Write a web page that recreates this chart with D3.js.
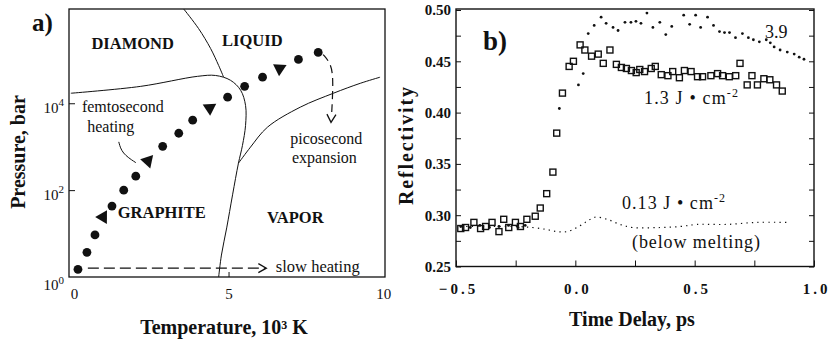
<!DOCTYPE html>
<html>
<head>
<meta charset="utf-8">
<script src="https://cdn.jsdelivr.net/npm/d3@7"></script>
<style>
    html, body { margin: 0; padding: 0; background: #fff; }
    svg { display: block; font-family: 'Liberation Serif', 'Times New Roman', serif; }
</style>
</head>
<body>
<svg width="831" height="341"></svg>
<script>
// panel a: heating path through the carbon phase diagram (T in 10^3 K, P in bar)
const heatTemp = [0.13, 0.42, 0.68, 0.94, 1.23, 1.61, 2.0, 2.39, 2.87, 3.39, 3.84, 4.39, 4.97, 5.52, 6.1, 6.65, 7.26, 7.9]
const heatPressure = [1.5, 3.7, 9.3, 24, 43, 100, 210, 470, 1020, 2040, 4070, 7760, 13800, 24500, 39800, 63100, 102000, 148000]
const heatMarker = ['o', 'o', 'o', 't', 'o', 'o', 'o', 't', 'o', 'o', 'o', 't', 'o', 'o', 'o', 't', 'o', 'o']

const graphiteTemp = [-0.1, 2.16, 4.0, 4.58, 5.06, 5.39, 5.55, 5.55, 5.45, 5.32, 5.13, 4.94, 4.77, 4.68]
const graphitePressure = [17000, 24500, 41700, 43600, 33900, 20000, 8900, 3090, 1070, 417, 78, 13.5, 3.2, 1]
const diamondTemp = [3.55, 4.03, 4.42, 4.68, 4.84]
const diamondPressure = [1.48e6, 5.25e5, 1.82e5, 7.41e4, 4.0e4]
const vaporTemp = [5.32, 5.71, 6.26, 7.32, 8.39, 9.26, 9.9]
const vaporPressure = [417, 977, 2820, 8130, 17000, 28800, 39800]

const slowTemp = [0.45, 6.19]
const slowPressure = [1.6, 1.6]
const expandTemp = [8.06, 8.33, 8.39, 8.33]
const expandPressure = [132000, 79000, 31600, 5000]

const tempTicks = [0, 5, 10]
const pressureTicks = [1, 100, 10000]

// panel b: reflectivity vs time delay (ps)
const highTime = [-0.48, -0.44, -0.40, -0.36, -0.32, -0.28, -0.24, -0.21, -0.067, 0.013, 0.033, 0.054, 0.079, 0.108, 0.129, 0.158, 0.179, 0.208, 0.233, 0.254, 0.275, 0.3, 0.325, 0.354, 0.379, 0.404, 0.454, 0.479, 0.504, 0.525, 0.554, 0.579, 0.604, 0.625, 0.646, 0.671, 0.7, 0.725, 0.746, 0.771, 0.8, 0.817, 0.833, 0.858, 0.888, 0.917, 0.938, 0.958]
const highRefl = [0.289, 0.288, 0.290, 0.288, 0.289, 0.290, 0.288, 0.290, 0.404, 0.427, 0.438, 0.477, 0.485, 0.493, 0.487, 0.483, 0.480, 0.488, 0.488, 0.489, 0.487, 0.497, 0.483, 0.488, 0.476, 0.484, 0.495, 0.486, 0.495, 0.483, 0.493, 0.485, 0.479, 0.478, 0.478, 0.473, 0.477, 0.473, 0.471, 0.469, 0.471, 0.468, 0.464, 0.461, 0.459, 0.457, 0.454, 0.452]

const midTime = [-0.48, -0.46, -0.425, -0.397, -0.376, -0.349, -0.32, -0.30, -0.279, -0.251, -0.23, -0.203, -0.168, -0.147, -0.12, -0.094, -0.078, -0.054, -0.026, -0.008, 0.02, 0.04, 0.068, 0.096, 0.117, 0.145, 0.172, 0.193, 0.214, 0.235, 0.255, 0.27, 0.29, 0.318, 0.335, 0.36, 0.388, 0.408, 0.436, 0.457, 0.485, 0.512, 0.533, 0.568, 0.596, 0.617, 0.645, 0.672, 0.69, 0.72, 0.74, 0.763, 0.79, 0.815, 0.843, 0.867]
const midRefl = [0.287, 0.288, 0.293, 0.287, 0.289, 0.293, 0.284, 0.296, 0.288, 0.293, 0.289, 0.296, 0.299, 0.307, 0.321, 0.342, 0.380, 0.419, 0.445, 0.450, 0.466, 0.461, 0.455, 0.457, 0.448, 0.461, 0.447, 0.444, 0.443, 0.441, 0.439, 0.442, 0.440, 0.443, 0.445, 0.437, 0.436, 0.440, 0.434, 0.441, 0.440, 0.435, 0.435, 0.436, 0.438, 0.436, 0.435, 0.436, 0.448, 0.427, 0.436, 0.427, 0.433, 0.432, 0.427, 0.421]

const lowTime = [-0.48, -0.35, -0.25, -0.18, -0.12, -0.077, -0.035, 0.007, 0.049, 0.082, 0.133, 0.187, 0.24, 0.355, 0.44, 0.51, 0.635, 0.76, 0.89]
const lowRefl = [0.289, 0.289, 0.289, 0.288, 0.286, 0.284, 0.284, 0.288, 0.294, 0.298, 0.296, 0.291, 0.288, 0.288, 0.289, 0.291, 0.291, 0.293, 0.293]

const timeTicks = d3.range(-0.5, 1.001, 0.25)
const reflTicks = d3.range(0.25, 0.5001, 0.025)

const ink = '#111'
const svg = d3.select('svg')
const zip = (a, b) => a.map((v, i) => [v, b[i]])

// ---------- panel a ----------
const xA = d3.scaleLinear().domain([-0.16, 10.06]).range([69, 385])
const yA = d3.scaleLog().domain([1, Math.pow(10, 6.17)]).range([277, 9])
const pa = svg.append('g').attr('class', 'panel-a')

pa.append('rect')
    .attr('x', xA.range()[0])
    .attr('y', yA.range()[1])
    .attr('width', xA.range()[1] - xA.range()[0])
    .attr('height', yA.range()[0] - yA.range()[1])
    .attr('fill', 'none')
    .attr('stroke', ink)
    .attr('stroke-width', 1.3)

const xAxisA = pa.append('g')
    .attr('transform', `translate(0, ${yA.range()[0]})`)
    .call(d3.axisBottom(xA).tickValues(tempTicks).tickSize(-5).tickPadding(11).tickFormat(d3.format('d')))
xAxisA.select('.domain').remove()
xAxisA.selectAll('.tick line').attr('stroke', ink).attr('opacity', (d) => (d === 5 ? 1 : 0))
xAxisA.selectAll('.tick text')
    .attr('fill', ink)
    .attr('font-size', 15)
    .attr('font-family', 'Liberation Serif')

const yAxisA = pa.append('g')
    .attr('transform', `translate(${xA.range()[0]}, 0)`)
    .call(d3.axisLeft(yA).tickValues(pressureTicks).tickSize(-6).tickPadding(5))
yAxisA.select('.domain').remove()
yAxisA.selectAll('.tick line').attr('stroke', ink).attr('opacity', (d) => (d === 1 ? 0 : 1))
yAxisA.selectAll('.tick text').each(function (d) {
    const t = d3.select(this)
    t.text(null)
        .attr('fill', ink)
        .attr('font-size', 15)
        .attr('font-family', 'Liberation Serif')
        .attr('dy', d === 1 ? '0.85em' : '0.62em')
    t.append('tspan').text('10')
    t.append('tspan').attr('dy', '-0.6em').attr('font-size', 11).text(Math.round(Math.log10(d)))
})

const lineA = d3.line()
    .x((d) => xA(d[0]))
    .y((d) => yA(d[1]))
    .curve(d3.curveCatmullRom.alpha(0.5))

const boundaries = [
    zip(graphiteTemp, graphitePressure),
    zip(diamondTemp, diamondPressure),
    zip(vaporTemp, vaporPressure),
]
pa.selectAll('path.boundary')
    .data(boundaries)
    .join('path')
    .attr('class', 'boundary')
    .attr('d', lineA)
    .attr('fill', 'none')
    .attr('stroke', ink)
    .attr('stroke-width', 1)

// slow heating dashed arrow
const slow = zip(slowTemp, slowPressure)
pa.append('path')
    .attr('d', d3.line().x((d) => xA(d[0])).y((d) => yA(d[1]))(slow))
    .attr('fill', 'none')
    .attr('stroke', ink)
    .attr('stroke-width', 1.4)
    .attr('stroke-dasharray', '11,5')

const arrowHead = (g, tip, angle) => {
    g.append('path')
        .attr('d', 'M-8,-4.5L0,0L-8,4.5')
        .attr('transform', `translate(${tip[0]}, ${tip[1]}) rotate(${angle})`)
        .attr('fill', 'none')
        .attr('stroke', ink)
        .attr('stroke-width', 1.3)
}
arrowHead(pa, [xA(slowTemp[1]) + 1, yA(slowPressure[1])], 0)

// picosecond expansion dashed arrow
const expand = zip(expandTemp, expandPressure)
pa.append('path')
    .attr('d', d3.line().x((d) => xA(d[0])).y((d) => yA(d[1])).curve(d3.curveBasis)(expand))
    .attr('fill', 'none')
    .attr('stroke', ink)
    .attr('stroke-width', 1.2)
    .attr('stroke-dasharray', '8,5')
{
    const n = expand.length
    const p0 = [xA(expand[n - 2][0]), yA(expand[n - 2][1])]
    const p1 = [xA(expand[n - 1][0]), yA(expand[n - 1][1])]
    const ang = (Math.atan2(p1[1] - p0[1], p1[0] - p0[0]) * 180) / Math.PI
    arrowHead(pa, [p1[0] - 0.5, p1[1] + 6], ang)
}

// heating path markers
const heat = heatTemp.map((t, i) => ({ t, p: heatPressure[i], m: heatMarker[i], i }))
pa.selectAll('circle.heat')
    .data(heat.filter((d) => d.m === 'o'))
    .join('circle')
    .attr('class', 'heat')
    .attr('cx', (d) => xA(d.t))
    .attr('cy', (d) => yA(d.p))
    .attr('r', 4.4)
    .attr('fill', ink)

pa.selectAll('path.heat-arrow')
    .data(heat.filter((d) => d.m === 't'))
    .join('path')
    .attr('class', 'heat-arrow')
    .attr('d', d3.symbol(d3.symbolTriangle, 80))
    .attr('fill', ink)
    .attr('transform', (d) => {
        const a = heat[d.i - 1]
        const b = heat[d.i + 1]
        const ang = (Math.atan2(yA(b.p) - yA(a.p), xA(b.t) - xA(a.t)) * 180) / Math.PI + 90
        return `translate(${xA(d.t)}, ${yA(d.p)}) rotate(${ang})`
    })

// leader from "heating" label
pa.append('path')
    .attr('d', d3.line().x((d) => xA(d[0])).y((d) => yA(d[1])).curve(d3.curveBasis)([[1.45, 1290], [1.55, 700], [2.0, 430]]))
    .attr('fill', 'none')
    .attr('stroke', ink)
    .attr('stroke-width', 1)

const labelsA = [
    { text: 'DIAMOND', t: 1.9, p: 2.45e5, bold: true },
    { text: 'LIQUID', t: 5.77, p: 2.88e5, bold: true },
    { text: 'GRAPHITE', t: 2.84, p: 31, bold: true },
    { text: 'VAPOR', t: 7.16, p: 24, bold: true },
    { text: 'femtosecond', t: 1.58, p: 8300 },
    { text: 'heating', t: 1.19, p: 2950 },
    { text: 'picosecond', t: 8.16, p: 1580 },
    { text: 'expansion', t: 8.1, p: 575 },
]
pa.selectAll('text.label')
    .data(labelsA)
    .join('text')
    .attr('class', 'label')
    .attr('x', (d) => xA(d.t))
    .attr('y', (d) => yA(d.p))
    .attr('dy', '0.35em')
    .attr('text-anchor', 'middle')
    .attr('font-size', (d) => (d.bold ? 16.5 : 16))
    .attr('font-weight', (d) => (d.bold ? 'bold' : 'normal'))
    .attr('fill', ink)
    .text((d) => d.text)

pa.append('text')
    .attr('x', xA(6.53))
    .attr('y', yA(1.7))
    .attr('dy', '0.3em')
    .attr('font-size', 16.5)
    .attr('fill', ink)
    .text('slow heating')

pa.append('text')
    .attr('x', 32)
    .attr('y', 31)
    .attr('font-size', 25)
    .attr('font-weight', 'bold')
    .attr('fill', ink)
    .text('a)')

pa.append('text')
    .attr('transform', 'translate(18, 152) rotate(-90)')
    .attr('dy', '0.35em')
    .attr('text-anchor', 'middle')
    .attr('font-size', 20)
    .attr('font-weight', 'bold')
    .attr('fill', ink)
    .text('Pressure, bar')

pa.append('text')
    .attr('x', 224)
    .attr('y', 334)
    .attr('text-anchor', 'middle')
    .attr('font-size', 20)
    .attr('font-weight', 'bold')
    .attr('fill', ink)
    .text('Temperature, 10³ K')

// ---------- panel b ----------
const xB = d3.scaleLinear().domain([-0.5, 1.0]).range([456, 814])
const yB = d3.scaleLinear().domain([0.25, 0.5]).range([266.5, 10])
const pb = svg.append('g').attr('class', 'panel-b')

pb.append('rect')
    .attr('x', xB.range()[0])
    .attr('y', 9)
    .attr('width', xB.range()[1] - xB.range()[0])
    .attr('height', yB.range()[0] - 9)
    .attr('fill', 'none')
    .attr('stroke', ink)
    .attr('stroke-width', 1.4)

const isHalf = (d) => Math.abs(d * 2 - Math.round(d * 2)) < 1e-6
const isTwentieth = (d) => Math.abs(d * 20 - Math.round(d * 20)) < 1e-6

const xAxisB = pb.append('g')
    .attr('transform', `translate(0, ${yB.range()[0]})`)
    .call(d3.axisBottom(xB).tickValues(timeTicks).tickSize(-6).tickPadding(17)
        .tickFormat((d) => (isHalf(d) ? d3.format('.1f')(d) : '')))
xAxisB.select('.domain').remove()
xAxisB.selectAll('.tick line').attr('stroke', ink)
xAxisB.selectAll('.tick text')
    .attr('fill', ink)
    .attr('font-size', 15)
    .attr('font-weight', 'bold')
    .attr('font-family', 'Liberation Serif')
    .attr('letter-spacing', 3)
    .attr('dx', 2)

const yAxisB = pb.append('g')
    .attr('transform', `translate(${xB.range()[0]}, 0)`)
    .call(d3.axisLeft(yB).tickValues(reflTicks).tickSize(-5).tickPadding(5)
        .tickFormat((d) => (isTwentieth(d) ? d3.format('.2f')(d) : '')))
yAxisB.select('.domain').remove()
yAxisB.selectAll('.tick line').attr('stroke', ink)
yAxisB.selectAll('.tick text')
    .attr('fill', ink)
    .attr('font-size', 15)
    .attr('font-weight', 'bold')
    .attr('font-family', 'Liberation Serif')

const yAxisBRight = pb.append('g')
    .attr('transform', `translate(${xB.range()[1]}, 0)`)
    .call(d3.axisRight(yB).tickValues(reflTicks).tickSize(-5).tickFormat(''))
yAxisBRight.select('.domain').remove()
yAxisBRight.selectAll('.tick line').attr('stroke', ink)

// 0.13 J/cm2 trace (dotted line)
pb.append('path')
    .attr('d', d3.line().x((d) => xB(d[0])).y((d) => yB(d[1])).curve(d3.curveCatmullRom)(zip(lowTime, lowRefl)))
    .attr('fill', 'none')
    .attr('stroke', ink)
    .attr('stroke-width', 1.2)
    .attr('stroke-dasharray', '1.3,4.2')

// 3.9 J/cm2 (small dots)
pb.selectAll('circle.high')
    .data(zip(highTime, highRefl))
    .join('circle')
    .attr('class', 'high')
    .attr('cx', (d) => xB(d[0]))
    .attr('cy', (d) => yB(d[1]))
    .attr('r', 1.4)
    .attr('fill', ink)

// 1.3 J/cm2 (open squares)
pb.selectAll('rect.mid')
    .data(zip(midTime, midRefl))
    .join('rect')
    .attr('class', 'mid')
    .attr('x', (d) => xB(d[0]) - 3)
    .attr('y', (d) => yB(d[1]) - 3)
    .attr('width', 6)
    .attr('height', 6)
    .attr('fill', 'none')
    .attr('stroke', ink)
    .attr('stroke-width', 1.4)

const fluence = (g, x, y, value) => {
    const t = g.append('text')
        .attr('x', x)
        .attr('y', y)
        .attr('font-size', 18)
        .attr('fill', ink)
    t.append('tspan').text(`${value} J • cm`)
    t.append('tspan').attr('dy', -7).attr('font-size', 12).text('-2')
    return t
}
fluence(pb, 644, 104, '1.3').attr('textLength', 94)
fluence(pb, 622, 209, '0.13').attr('textLength', 103)

pb.append('text')
    .attr('x', 765)
    .attr('y', 38)
    .attr('font-size', 18)
    .attr('fill', ink)
    .text('3.9')

pb.append('text')
    .attr('x', 632)
    .attr('y', 248)
    .attr('font-size', 18)
    .attr('fill', ink)
    .attr('textLength', 128)
    .text('(below melting)')

pb.append('text')
    .attr('x', 483)
    .attr('y', 50)
    .attr('font-size', 27)
    .attr('font-weight', 'bold')
    .attr('fill', ink)
    .text('b)')

pb.append('text')
    .attr('transform', 'translate(406, 146) rotate(-90)')
    .attr('dy', '0.35em')
    .attr('text-anchor', 'middle')
    .attr('font-size', 20)
    .attr('font-weight', 'bold')
    .attr('fill', ink)
    .attr('textLength', 118)
    .text('Reflectivity')

pb.append('text')
    .attr('x', 632)
    .attr('y', 326)
    .attr('text-anchor', 'middle')
    .attr('font-size', 20)
    .attr('font-weight', 'bold')
    .attr('fill', ink)
    .text('Time Delay, ps')
</script>
</body>
</html>
